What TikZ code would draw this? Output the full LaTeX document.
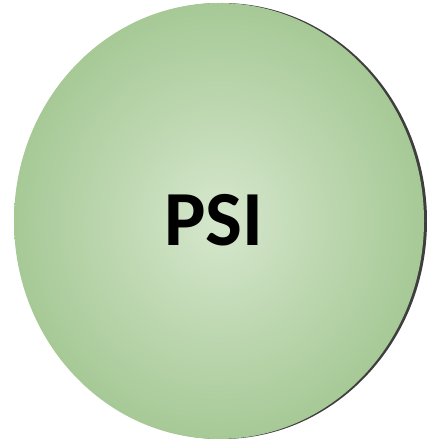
\documentclass[tikz,border=0pt]{standalone}
\usepackage{fontspec}
\setmainfont{Carlito}
\usetikzlibrary{shapes.geometric}
\definecolor{psiedge}{RGB}{166,201,150}
\definecolor{psicentre}{RGB}{214,231,205}
\definecolor{psishadow}{RGB}{62,62,62}
\tikzstyle{blob}=[ellipse,minimum width=410pt,minimum height=436pt,inner sep=0pt]
\tikzstyle{blobtext}=[font=\bfseries\fontsize{78}{78}\selectfont,inner sep=0pt]

\begin{document}
\begin{tikzpicture}[x=1pt,y=1pt]
    \useasboundingbox (0,0) rectangle (426,441);
    \node[blob,fill=psishadow] (shadow) at (222,220) {};
    \node[blob,inner color=psicentre,outer color=psiedge] (psi) at (219,220) {};
    \node[blobtext] (label) at (214,221) {PSI};
\end{tikzpicture}
\end{document}
